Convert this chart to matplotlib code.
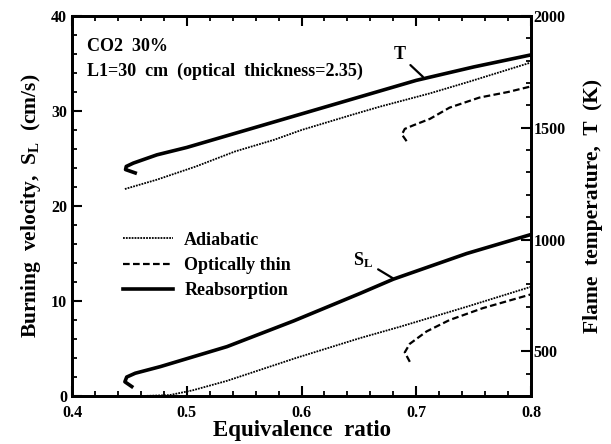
import matplotlib
matplotlib.use("Agg")
import matplotlib.pyplot as plt
from matplotlib.ticker import MultipleLocator

# ---- data ----
# Burning velocity S_L (cm/s), left axis
phi_sl_reab = [0.452, 0.446, 0.4476, 0.455, 0.477, 0.535, 0.593, 0.651, 0.680, 0.744, 0.800]
sl_reab     = [1.0,   1.5,   2.0,    2.4,   3.1,   5.2,   7.9,   10.8,  12.3,  15.0,  17.0]

phi_sl_adia = [0.460, 0.485, 0.505, 0.535, 0.595, 0.651, 0.686, 0.744, 0.800]
sl_adia     = [0.0,   0.1,   0.6,   1.6,   4.0,   6.1,   7.3,   9.4,   11.5]

phi_sl_thin = [0.6944, 0.690, 0.6944, 0.709, 0.729, 0.758, 0.800]
sl_thin     = [3.6,    4.6,   5.5,    6.8,   8.0,   9.25,  10.7]

# Flame temperature T (K), right axis
phi_t_reab = [0.455, 0.4466, 0.4472, 0.4534, 0.474, 0.50, 0.55, 0.60, 0.65, 0.70, 0.75, 0.80]
t_reab     = [1298,  1313,   1327,   1342,   1379,  1412, 1487, 1562, 1637, 1712, 1772, 1826]

phi_t_adia = [0.446, 0.474, 0.508, 0.542, 0.576, 0.600, 0.644, 0.668, 0.712, 0.746, 0.800]
t_adia     = [1226,  1268,  1327,  1394,  1446,  1490,  1558,  1594,  1654,  1706,  1792]

phi_t_thin = [0.6916, 0.6875, 0.6900, 0.697, 0.712, 0.729, 0.755, 0.780, 0.800]
t_thin     = [1440,   1470,   1495,   1510,  1540,  1590,  1635,  1660,  1685]

x_ticks = [0.4, 0.5, 0.6, 0.7, 0.8]
y_ticks = [0, 10, 20, 30, 40]
t_ticks = [500, 1000, 1500, 2000]

legend_labels = ["Adiabatic", "Optically thin", "Reabsorption"]

# ---- style ----
plt.rcParams['font.family'] = ['Liberation Serif', 'DejaVu Serif']
plt.rcParams['font.weight'] = 'bold'
plt.rcParams['mathtext.fontset'] = 'custom'
plt.rcParams['mathtext.rm'] = 'Liberation Serif:bold'
plt.rcParams['mathtext.it'] = 'Liberation Serif:bold'
plt.rcParams['mathtext.bf'] = 'Liberation Serif:bold'

fig = plt.figure(figsize=(6.11, 4.44), dpi=100)
ax = fig.add_axes([0.118, 0.108, 0.751, 0.856])
ax2 = ax.twinx()

ls_adia = dict(color='black', lw=1.3, linestyle=(0, (1, 0.6)))
ls_thin = dict(color='black', lw=1.6, linestyle=(0, (3, 1.5)))
ls_reab = dict(color='black', lw=2.6, linestyle='-')

ax.plot(phi_sl_adia, sl_adia, **ls_adia)
ax.plot(phi_sl_thin, sl_thin, **ls_thin)
ax.plot(phi_sl_reab, sl_reab, **ls_reab)

ax2.plot(phi_t_adia, t_adia, **ls_adia)
ax2.plot(phi_t_thin, t_thin, **ls_thin)
ax2.plot(phi_t_reab, t_reab, **ls_reab)

ax.set_xlim(0.4, 0.8)
ax.set_ylim(0, 40)
ax2.set_ylim(300, 2000)

ax.set_xticks(x_ticks)
ax.set_xticklabels([f"{v:.1f}" for v in x_ticks])
ax.set_yticks(y_ticks)
ax.set_yticklabels([str(v) for v in y_ticks])
ax2.set_yticks(t_ticks)
ax2.set_yticklabels([str(v) for v in t_ticks])

ax.xaxis.set_minor_locator(MultipleLocator(0.02))
ax.yaxis.set_minor_locator(MultipleLocator(2))
ax2.yaxis.set_minor_locator(MultipleLocator(100))

ax.tick_params(axis='x', which='both', direction='in', top=True, bottom=True, labelsize=11.5, pad=6.5)
ax.tick_params(axis='y', which='both', direction='in', left=True, right=False, labelsize=11.5)
ax.tick_params(which='major', length=7, width=1.5)
ax.tick_params(which='minor', length=3.5, width=1.3)
ax2.tick_params(axis='y', which='both', direction='in', labelsize=11.5, pad=2)
ax2.tick_params(which='major', length=7, width=1.5)
ax2.tick_params(which='minor', length=3.5, width=1.3)

for a in (ax, ax2):
    for s in a.spines.values():
        s.set_linewidth(2.0)

ax.set_xlabel("Equivalence  ratio", fontsize=16.5, fontweight='bold', labelpad=-1)
ax.set_ylabel(r"Burning  velocity,  S$_{\mathregular{L}}$  (cm/s)", fontsize=15.5, fontweight='bold', labelpad=6)
ax2.set_ylabel("Flame  temperature,  T  (K)", fontsize=15.5, fontweight='bold', labelpad=12)

ax.text(0.033, 0.921, "CO2  30%", transform=ax.transAxes, fontsize=13, fontweight='bold', va='center')
ax.text(0.033, 0.855, "L1=30  cm  (optical  thickness=2.35)", transform=ax.transAxes,
        fontsize=13, fontweight='bold', va='center')

# legend
ax.legend(legend_labels, loc='upper left', bbox_to_anchor=(0.075, 0.475), frameon=False,
          fontsize=13, handlelength=2.8, handletextpad=0.6, labelspacing=0.45)

# curve annotations
ax.annotate("T", xy=(0.7058, 33.6), xytext=(0.6855, 35.9), fontsize=13, fontweight='bold',
            ha='center', va='center',
            arrowprops=dict(arrowstyle='-', color='black', lw=1.6, shrinkA=2, shrinkB=0))
ax.annotate(r"S$_{\mathregular{L}}$", xy=(0.6796, 12.4), xytext=(0.6535, 14.3), fontsize=13,
            ha='center', va='center',
            arrowprops=dict(arrowstyle='-', color='black', lw=1.6, shrinkA=2, shrinkB=0))

fig.savefig("out.png", dpi=100)
